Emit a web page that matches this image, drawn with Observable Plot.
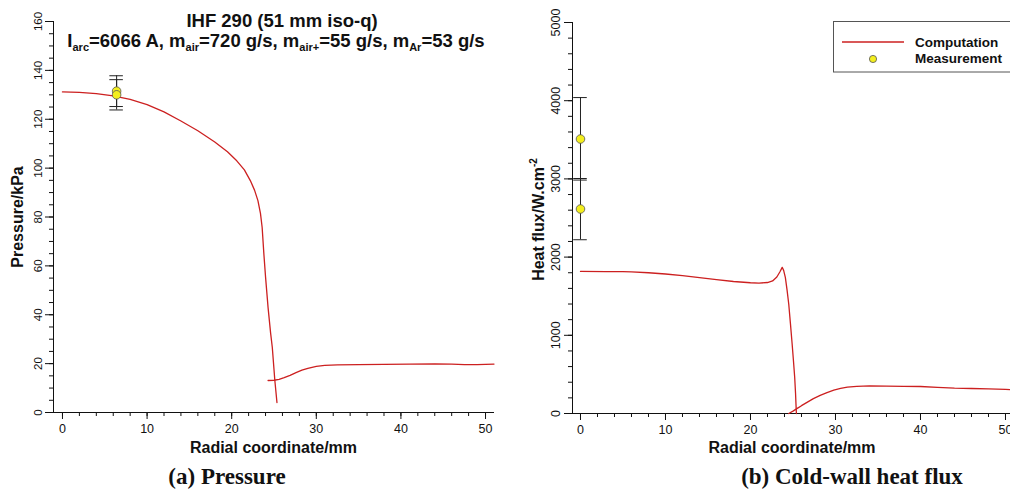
<!DOCTYPE html>
<html><head><meta charset="utf-8">
<script src="https://cdn.jsdelivr.net/npm/d3@7"></script>
<script src="https://cdn.jsdelivr.net/npm/@observablehq/plot@0.6"></script>
<style>
html,body{margin:0;padding:0;background:#fff;overflow:hidden}
#wrap{position:relative;width:1010px;height:491px;overflow:hidden;background:#fff}
#left,#right{position:absolute;top:0}
#left{left:0;width:505px}
#right{left:505px;width:520px}
#wrap svg{max-width:none !important}
#overlay{position:absolute;left:0;top:0;pointer-events:none}
</style></head><body>
<div id="wrap"><div id="left"></div><div id="right"></div><svg id="overlay" width="1010" height="491"></svg></div>
<script>
// ---------- data ----------
// (a) Pressure, computation (two branches of the curve)
const pressAX = [0, 2, 4, 6, 8, 10, 12, 14, 16, 18, 19.5, 20.6, 21.5, 22.2, 22.7, 23.1, 23.4, 23.6, 23.8, 24.0, 24.3, 24.6, 24.8, 25.1, 25.35];
const pressAY = [131.2, 131.0, 130.5, 129.6, 128.1, 126.0, 123.0, 119.3, 115.3, 110.7, 106.7, 103.0, 99.3, 94.9, 91.0, 86.7, 81.5, 75.7, 65.0, 55.5, 42.9, 32.5, 26.6, 13.1, 4.1];
const pressBX = [24.3, 25.0, 25.6, 26.2, 26.9, 27.6, 28.3, 29.0, 30.0, 31.0, 32.5, 35, 38, 41, 44, 46, 47.5, 49, 51];
const pressBY = [13.1, 13.2, 13.6, 14.3, 15.2, 16.3, 17.3, 18.1, 18.9, 19.3, 19.5, 19.6, 19.7, 19.8, 19.9, 19.8, 19.6, 19.6, 19.8];
// (a) Pressure, measurement
const pressMeasX = [6.4, 6.4];
const pressMeasY = [131.5, 130.0];
const pressMeasLo = [125.2, 123.8];
const pressMeasHi = [137.8, 136.2];
// (b) Cold-wall heat flux, computation
const heatAX = [0, 3, 5, 6, 8, 10, 12, 14, 16, 18, 20, 21, 22, 22.6, 23.1, 23.45, 23.73, 23.9, 24.1, 24.3, 24.5, 24.7, 24.9, 25.05, 25.2, 25.3, 25.35, 25.4];
const heatAY = [1817, 1815, 1815, 1812, 1800, 1784, 1762, 1738, 1712, 1688, 1672, 1668, 1675, 1695, 1745, 1810, 1869, 1830, 1741, 1580, 1400, 1150, 889, 680, 464, 260, 123, 0];
const heatBX = [24.5, 25.0, 25.5, 26.0, 26.7, 27.4, 28.2, 29.0, 29.8, 30.6, 31.4, 32.5, 34, 36, 38, 40, 42, 44, 46, 48, 50, 51];
const heatBY = [0, 30, 65, 100, 145, 190, 232, 268, 298, 320, 336, 348, 352, 351, 348, 345, 335, 325, 320, 314, 308, 305];
// (b) measurement
const heatMeasX = [0, 0];
const heatMeasY = [3510, 2615];
const heatMeasLo = [2985, 2222];
const heatMeasHi = [4040, 3005];
// ticks
const xTicks = [0, 10, 20, 30, 40, 50];
const pressTicks = [0, 20, 40, 60, 80, 100, 120, 140, 160];
const heatTicks = [0, 1000, 2000, 3000, 4000, 5000];
const xMinor = d3.range(0, 51, 2);
const pressMinor = d3.range(0, 161, 5);
const heatMinor = d3.range(0, 5001, 200);
// text
const titleLine1 = "IHF 290 (51 mm iso-q)";
const titleLine2 = [["I"], ["arc", 1], ["=6066 A, m"], ["air", 1], ["=720 g/s, m"], ["air+", 1], ["=55 g/s, m"], ["Ar", 1], ["=53 g/s"]];
const xLabel = "Radial coordinate/mm";
const pressLabel = "Pressure/kPa";
const heatLabel = "Heat flux/W.cm";
const heatLabelSup = "-2";
const captionA = "(a) Pressure";
const captionB = "(b) Cold-wall heat flux";
const legendItems = ["Computation", "Measurement"];

// ---------- build tables ----------
const seg = (xs, ys) => xs.map((x, i) => ({x, y: ys[i]}));
const meas = (xs, ys, lo, hi) => xs.map((x, i) => ({x, y: ys[i], lo: lo[i], hi: hi[i]}));
const pressA = seg(pressAX, pressAY), pressB = seg(pressBX, pressBY);
const heatA = seg(heatAX, heatAY), heatB = seg(heatBX, heatBY);
const pressMeas = meas(pressMeasX, pressMeasY, pressMeasLo, pressMeasHi);
const heatMeas = meas(heatMeasX, heatMeasY, heatMeasLo, heatMeasHi);

const RED = "#cc2020", YEL = "#f3ee1e", CAP = 0.8;
const FONT = "'Liberation Sans', Arial, Helvetica, sans-serif";

function panel({width, ml, mr, mt, mb, xDom, yDom, yMajor, yMinorT, segA, segB, m, yFont, ydx}) {
  return Plot.plot({
    width, height: 460,
    marginLeft: ml, marginRight: mr, marginTop: mt, marginBottom: mb,
    x: {domain: xDom},
    y: {domain: yDom},
    style: {fontFamily: FONT, fontSize: "12.5px", color: "#111", background: "transparent", overflow: "visible", maxWidth: "none"},
    marks: [
      Plot.axisX({ticks: xMinor, tickSize: 4, tickFormat: () => "", label: null}),
      Plot.axisX({ticks: xTicks, tickSize: 7, tickPadding: 5, label: null, fontSize: 12.5}),
      Plot.axisY({ticks: yMinorT, tickSize: 4, tickFormat: () => "", label: null}),
      Plot.axisY({ticks: yMajor, tickSize: 8, tickFormat: () => "", label: null}),
      Plot.text(yMajor, {y: d => d, text: d => String(d), frameAnchor: "left", textAnchor: "middle", lineAnchor: "middle", dx: ydx, rotate: -90, fontSize: yFont, fill: "#111"}),
      Plot.ruleY([yDom[0]], {stroke: "#111"}),
      Plot.ruleX([xDom[0]], {stroke: "#111"}),
      Plot.line(segA, {x: "x", y: "y", stroke: RED, strokeWidth: 1.3}),
      Plot.line(segB, {x: "x", y: "y", stroke: RED, strokeWidth: 1.3}),
      Plot.ruleX(m, {x: "x", y1: "lo", y2: "hi", stroke: "#222", strokeWidth: 1}),
      Plot.ruleY(m, {y: "lo", x1: d => d.x - CAP, x2: d => d.x + CAP, stroke: "#222", strokeWidth: 1}),
      Plot.ruleY(m, {y: "hi", x1: d => d.x - CAP, x2: d => d.x + CAP, stroke: "#222", strokeWidth: 1}),
      Plot.dot(m, {x: "x", y: "y", r: 4.3, fill: YEL, stroke: "#555", strokeWidth: 0.8})
    ]
  });
}

document.getElementById("left").append(panel({
  width: 505, ml: 53, mr: 11, mt: 21, mb: 48, xDom: [-1.06, 51.06], yDom: [0, 160],
  yMajor: pressTicks, yMinorT: pressMinor, segA: pressA, segB: pressB, m: pressMeas, yFont: 11.5, ydx: -15.5
}));
document.getElementById("right").append(panel({
  width: 515, ml: 67, mr: 6, mt: 22, mb: 47, xDom: [-0.94, 51.06], yDom: [0, 5000],
  yMajor: heatTicks, yMinorT: heatMinor, segA: heatA, segB: heatB, m: heatMeas, yFont: 12.5, ydx: -17
}));

// ---------- overlay texts ----------
const ov = d3.select("#overlay").style("font-family", FONT);
ov.append("text").attr("x", 282).attr("y", 27).attr("text-anchor", "middle")
  .attr("font-weight", "bold").attr("font-size", 18.5).attr("fill", "#111").text(titleLine1);
const t2 = ov.append("text").attr("x", 276).attr("y", 47).attr("text-anchor", "middle")
  .attr("font-weight", "bold").attr("font-size", 18.5).attr("fill", "#111");
let prevSub = false;
titleLine2.forEach(([s, sub]) => {
  const ts = t2.append("tspan").text(s);
  if (sub) ts.attr("font-size", 11).attr("dy", 4);
  else if (prevSub) ts.attr("dy", -4);
  prevSub = !!sub;
});
ov.append("text").attr("transform", "translate(22.5,217) rotate(-90)").attr("text-anchor", "middle")
  .attr("font-weight", "bold").attr("font-size", 16).attr("fill", "#111").text(pressLabel);
const hl = ov.append("text").attr("transform", "translate(543.5,219.5) rotate(-90)").attr("text-anchor", "middle")
  .attr("font-weight", "bold").attr("font-size", 16).attr("fill", "#111");
hl.append("tspan").text(heatLabel);
hl.append("tspan").attr("font-size", 10).attr("dy", -7).text(heatLabelSup);
[273.5, 792].forEach(x => ov.append("text").attr("x", x).attr("y", 453).attr("text-anchor", "middle")
  .attr("font-weight", "bold").attr("font-size", 16).attr("fill", "#111").text(xLabel));
[[227, captionA], [852, captionB]].forEach(([x, t]) => ov.append("text").attr("x", x).attr("y", 484)
  .attr("text-anchor", "middle").attr("font-family", "'Liberation Serif', 'Times New Roman', serif")
  .attr("font-weight", "bold").attr("font-size", 23).attr("fill", "#111").text(t));
// legend
ov.append("rect").attr("x", 833.5).attr("y", 21.5).attr("width", 200).attr("height", 50.5)
  .attr("fill", "#fff").attr("stroke", "#555").attr("stroke-width", 1);
ov.append("line").attr("x1", 842).attr("x2", 904).attr("y1", 42).attr("y2", 42).attr("stroke", RED).attr("stroke-width", 1.3);
ov.append("circle").attr("cx", 873).attr("cy", 59).attr("r", 3.6).attr("fill", YEL).attr("stroke", "#555").attr("stroke-width", 0.8);
legendItems.forEach((t, i) => ov.append("text").attr("x", 915).attr("y", 46.5 + i * 16.5)
  .attr("font-weight", "bold").attr("font-size", 13.5).attr("fill", "#111").text(t));
</script>
</body></html>
